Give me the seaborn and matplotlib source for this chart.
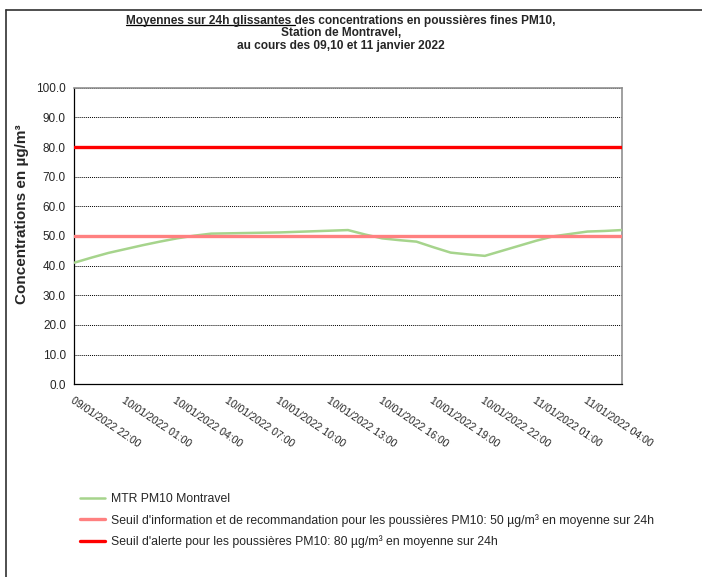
import numpy as np
import pandas as pd
import matplotlib
matplotlib.use("Agg")
import matplotlib.pyplot as plt
import seaborn as sns
from matplotlib.lines import Line2D

# Data (hourly rolling 24h means)
heures = pd.date_range("2022-01-09 22:00", periods=33, freq="h")
pm10_montravel = [41.0, 42.7, 44.3, 45.6, 46.9, 48.1, 49.2, 50.1, 50.8, 50.9,
                  51.0, 51.1, 51.2, 51.4, 51.6, 51.8, 52.0, 50.5, 49.2, 48.6,
                  48.1, 46.2, 44.4, 43.8, 43.3, 45.0, 46.7, 48.4, 49.9, 50.7,
                  51.5, 51.7, 52.0]
seuil_info = 50
seuil_alerte = 80

lbl_mtr = "MTR PM10 Montravel"
lbl_info = "Seuil d'information et de recommandation pour les poussières PM10: 50 µg/m³ en moyenne sur 24h"
lbl_alerte = "Seuil d'alerte pour les poussières PM10: 80 µg/m³ en moyenne sur 24h"

df = pd.DataFrame({"idx": np.arange(len(heures)), "valeur": pm10_montravel})

sns.set_style("white")
plt.rcParams['font.family'] = ['Liberation Sans', 'DejaVu Sans']

fig = plt.figure(figsize=(7.02, 5.77), dpi=100)
ax = fig.add_axes([74.3 / 702, 1 - 384.3 / 577, (621.7 - 74.3) / 702, (384.3 - 87.7) / 577])

# outer frame (only top and left visible)
fig.add_artist(Line2D([6 / 702, 1.0], [1 - 9.5 / 577] * 2, color="#303030", lw=1.2))
fig.add_artist(Line2D([6 / 702] * 2, [0, 1 - 9.5 / 577], color="#303030", lw=1.2))

sns.lineplot(data=df, x="idx", y="valeur", ax=ax, color="#A6D48C", lw=1.8, zorder=3)
ax.axhline(seuil_info, color="#FF8080", lw=2.4, zorder=4)
ax.axhline(seuil_alerte, color="#FF0000", lw=2.4, zorder=5)

ax.set_xlim(0, len(heures) - 1)
ax.set_ylim(0, 100)
ax.set_yticks(np.arange(0, 101, 10))
ax.set_yticklabels([f"{v:.1f}" for v in np.arange(0, 101, 10)], fontsize=8.5)
ax.yaxis.grid(True, color="black", linestyle=(0, (1, 1)), lw=0.7)
ax.set_axisbelow(True)

ax.set_xticks(np.arange(len(heures)))
xlabels = [h.strftime("%d/%m/%Y %H:%M") if i % 3 == 0 and i <= 30 else "" for i, h in enumerate(heures)]
ax.set_xticklabels(xlabels, rotation=-34, ha="left", va="top", rotation_mode="anchor", fontsize=7.6)
ax.tick_params(axis="both", direction="out", length=3, width=0.8, color="black", pad=3)
ax.tick_params(axis="x", pad=5)

ax.set_xlabel("")
ax.set_ylabel("Concentrations en µg/m³", fontsize=11, fontweight="bold", labelpad=3)
ax.yaxis.set_label_coords(-0.083, 0.574)

for side in ["left", "bottom"]:
    ax.spines[side].set_color("black")
    ax.spines[side].set_linewidth(0.9)
for side in ["top", "right"]:
    ax.spines[side].set_visible(True)
    ax.spines[side].set_color("#909090")
    ax.spines[side].set_linewidth(1.2)

# title with underlined part
tfs = 8.6
tx = 341 / 702
t1 = fig.text(tx, 1 - 21 / 577, "Moyennes sur 24h glissantes des concentrations en poussières fines PM10,",
              ha="center", va="center", fontsize=tfs, fontweight="bold")
fig.text(tx, 1 - 33.5 / 577, "Station de Montravel,", ha="center", va="center", fontsize=tfs, fontweight="bold")
fig.text(tx, 1 - 46 / 577, "au cours des 09,10 et 11 janvier 2022", ha="center", va="center",
         fontsize=tfs, fontweight="bold")
renderer = fig.canvas.get_renderer()
bb = t1.get_window_extent(renderer)
tmp = fig.text(0, 0, "Moyennes sur 24h glissantes", fontsize=tfs, fontweight="bold")
wsub = tmp.get_window_extent(renderer).width
tmp.remove()
uy = (bb.y0 + 2) / fig.bbox.height
fig.add_artist(Line2D([bb.x0 / fig.bbox.width, (bb.x0 + wsub + 3) / fig.bbox.width], [uy, uy],
                      color="black", lw=0.9))

handles = [Line2D([], [], color="#A6D48C", lw=1.8),
           Line2D([], [], color="#FF8080", lw=2.4),
           Line2D([], [], color="#FF0000", lw=2.4)]
fig.legend(handles, [lbl_mtr, lbl_info, lbl_alerte], loc="upper left",
           bbox_to_anchor=(75 / 702, 1 - 488.5 / 577), frameon=False, fontsize=8.8,
           handlelength=2.05, handletextpad=0.5, labelspacing=0.7, borderaxespad=0)

fig.savefig("out.png", dpi=100)
